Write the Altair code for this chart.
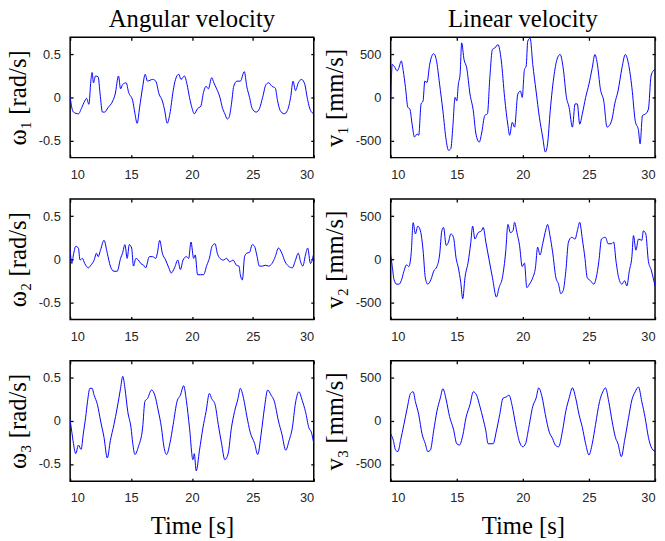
import altair as alt
import pandas as pd

# ---------------- data ----------------
t_w1 = [10.0, 10.14, 10.27, 10.68, 10.95, 11.2, 11.35, 11.54, 11.7, 11.8, 11.92, 12.08, 12.3, 12.46, 12.65,
        12.84, 13.1, 13.5, 13.7, 13.97, 14.14, 14.3, 14.6, 14.8, 15.14, 15.3, 15.5, 15.7, 15.95, 16.16, 16.35,
        16.76, 17.03, 17.3, 17.57, 17.76, 17.97, 18.19, 18.46, 18.65, 18.92, 19.1, 19.38, 19.6, 19.8, 20.0,
        20.19, 20.46, 20.73, 20.95, 21.16, 21.35, 21.62, 21.8, 22.03, 22.3, 22.5, 22.7, 22.9, 23.05, 23.24,
        23.43, 23.7, 23.97, 24.3, 24.5, 24.73, 24.95, 25.27, 25.54, 25.8, 26.08, 26.3, 26.57, 26.84, 27.03,
        27.24, 27.57, 27.84, 28.1, 28.3, 28.5, 28.73, 29.0, 29.27, 29.46, 29.73, 30.0]
w1 = [0.01, -0.12, -0.17, -0.19, -0.12, -0.04, -0.01, -0.08, 0.19, 0.29, 0.17, 0.25, 0.24, 0.04, -0.17,
      -0.17, -0.12, -0.04, 0.04, 0.25, 0.10, 0.15, 0.17, 0.06, -0.04, -0.17, -0.30, -0.12, 0.12, 0.27, 0.19,
      0.21, 0.19, 0.04, -0.04, -0.15, -0.30, -0.19, 0.08, 0.21, 0.27, 0.21, 0.25, 0.15, 0.0, -0.12,
      -0.19, -0.13, -0.10, 0.06, 0.13, 0.10, 0.23, 0.17, 0.10, 0.0, -0.12, -0.19, -0.25, -0.23, -0.08,
      0.13, 0.19, 0.19, 0.30, 0.13, 0.0, -0.13, -0.17, -0.13, 0.0, 0.15, 0.17, 0.13, 0.11, -0.04,
      -0.15, -0.19, -0.15, 0.0, 0.19, 0.08, 0.17, 0.21, 0.15, 0.0, -0.15, -0.19]

t_v1 = [10.0, 10.12, 10.25, 10.5, 10.62, 10.8, 10.95, 11.12, 11.3, 11.45, 11.62, 11.8, 12.0, 12.12, 12.3,
        12.45, 12.58, 12.75, 12.95, 13.25, 13.45, 13.7, 13.95, 14.2, 14.37, 14.55, 14.7, 14.87, 15.0, 15.12,
        15.25, 15.37, 15.55, 15.75, 16.0, 16.25, 16.45, 16.7, 16.87, 17.12, 17.32, 17.5, 17.7, 17.87, 18.12,
        18.37, 18.62, 18.87, 19.0, 19.2, 19.37, 19.62, 19.82, 19.95, 20.12, 20.25, 20.37, 20.55, 20.75, 21.0,
        21.25, 21.5, 21.7, 21.87, 22.07, 22.37, 22.62, 22.82, 23.05, 23.3, 23.5, 23.75, 23.95, 24.12, 24.3,
        24.5, 24.75, 25.0, 25.25, 25.45, 25.62, 25.87, 26.12, 26.37, 26.55, 26.75, 26.95, 27.2, 27.5, 27.75,
        28.0, 28.25, 28.5, 28.75, 28.87, 29.05, 29.3, 29.5, 29.7, 29.87, 30.0]
v1 = [-40, 385, 365, 310, 345, 425, 310, 115, -115, -135, -310, -460, -425, -440, -75,
      -40, 190, 175, 385, 510, 440, 155, -155, -500, -615, -595, -345, 0, -40, 155,
      270, 635, 440, 345, 40, -155, -425, -520, -425, -210, -190, 230, 560, 575, 615,
      425, 0, -325, -440, -290, -345, 40, 75, 0, 325, 365, 655, 690, 385, 75,
      -230, -460, -635, -540, -155, 270, 460, 500, 345, 0, -115, -345, -75, -75, -310,
      -190, 0, 155, 345, 500, 405, 95, -40, -345, -325, -250, -75, 75, 345, 500,
      385, 115, -270, -385, -540, -210, -190, -135, 250, 310, 325]

t_w2 = [10.0, 10.14, 10.27, 10.46, 10.68, 10.81, 11.0, 11.2, 11.5, 11.7, 11.97, 12.16, 12.3, 12.5, 12.78,
        13.05, 13.3, 13.6, 13.86, 14.14, 14.3, 14.5, 14.68, 14.86, 15.05, 15.2, 15.4, 15.6, 15.8, 16.03,
        16.2, 16.5, 16.76, 17.03, 17.16, 17.35, 17.57, 17.84, 18.1, 18.3, 18.57, 18.84, 19.05, 19.27, 19.54,
        19.73, 19.92, 20.14, 20.27, 20.46, 20.68, 20.95, 21.22, 21.43, 21.65, 21.9, 22.08, 22.3, 22.57, 22.84,
        23.1, 23.38, 23.65, 23.86, 23.97, 24.14, 24.32, 24.5, 24.73, 24.95, 25.14, 25.32, 25.54, 25.8, 26.03,
        26.3, 26.57, 26.84, 27.1, 27.38, 27.65, 27.92, 28.24, 28.5, 28.73, 28.92, 29.1, 29.32, 29.5, 29.73, 30.0]
w2 = [0.11, -0.05, 0.05, 0.15, 0.13, -0.01, 0.01, -0.05, -0.10, -0.07, -0.01, 0.07, 0.03, 0.11, 0.22,
      0.07, -0.08, -0.14, -0.14, 0.01, 0.07, 0.17, 0.01, 0.17, 0.13, -0.08, 0.01, -0.01, -0.05, -0.07,
      -0.10, 0.03, 0.03, 0.01, 0.07, 0.22, 0.07, -0.01, -0.10, -0.16, -0.10, -0.01, -0.12, -0.01, 0.03,
      0.01, 0.20, 0.01, 0.05, -0.18, -0.18, -0.18, -0.07, 0.01, 0.15, 0.18, 0.07, 0.01, -0.01, 0.01,
      -0.03, -0.01, -0.07, -0.08, -0.18, -0.24, 0.03, 0.07, 0.08, 0.17, 0.15, 0.05, -0.08, -0.08, -0.07,
      -0.08, -0.05, 0.03, 0.13, 0.07, -0.03, -0.08, -0.10, -0.01, 0.07, -0.03, -0.08, 0.05, 0.13, -0.05, 0.07]

t_v2 = [10.0, 10.12, 10.25, 10.45, 10.62, 10.8, 11.0, 11.2, 11.37, 11.55, 11.7, 11.87, 12.05, 12.25, 12.45,
        12.62, 12.8, 13.05, 13.25, 13.5, 13.7, 13.87, 14.0, 14.2, 14.37, 14.55, 14.75, 14.95, 15.12, 15.3,
        15.45, 15.62, 15.87, 16.05, 16.2, 16.37, 16.62, 16.87, 17.0, 17.2, 17.45, 17.7, 18.0, 18.2, 18.45,
        18.7, 18.87, 19.05, 19.25, 19.37, 19.55, 19.75, 19.95, 20.12, 20.3, 20.5, 20.75, 20.95, 21.12, 21.3,
        21.5, 21.75, 21.87, 22.05, 22.25, 22.5, 22.7, 22.87, 23.05, 23.25, 23.45, 23.7, 23.95, 24.12, 24.3,
        24.5, 24.7, 24.87, 25.12, 25.37, 25.55, 25.75, 25.95, 26.25, 26.45, 26.7, 26.87, 27.05, 27.25, 27.5,
        27.7, 27.87, 28.05, 28.25, 28.37, 28.55, 28.75, 29.0, 29.12, 29.3, 29.5, 29.7, 30.0]
v2 = [50, -85, -235, -290, -290, -250, -140, -65, -85, 70, 425, 295, 385, 330, 105,
      -215, -290, -235, -140, -85, 50, 330, 370, 160, 200, 295, 255, 10, -100, -270,
      -460, -215, -25, 180, 385, 235, 310, 330, 370, 200, -10, -215, -440, -330, -215,
      85, 405, 310, 330, 430, 310, 160, -85, -45, -330, -290, -215, -100, 140, 50,
      180, 350, 405, 275, 85, -215, -290, -400, -365, -140, 200, 255, 235, 330, 430,
      235, 10, -215, -250, -290, -215, -25, 235, 255, 180, 180, 200, -25, -215, -290,
      -250, -310, -140, 30, 275, 105, 235, 220, 330, 295, -25, -120, -310]

t_w3 = [10.0, 10.14, 10.27, 10.46, 10.68, 10.9, 11.08, 11.27, 11.43, 11.62, 11.8, 11.97, 12.24, 12.5, 12.78,
        13.05, 13.3, 13.6, 13.86, 14.14, 14.32, 14.5, 14.73, 15.0, 15.14, 15.32, 15.6, 15.95, 16.14, 16.35,
        16.68, 16.95, 17.22, 17.5, 17.7, 17.92, 18.19, 18.46, 18.78, 19.05, 19.32, 19.54, 19.8, 20.08, 20.19,
        20.35, 20.62, 20.9, 21.16, 21.43, 21.62, 21.9, 22.16, 22.43, 22.7, 22.97, 23.24, 23.5, 23.78, 23.97,
        24.24, 24.5, 24.78, 25.14, 25.4, 25.68, 25.95, 26.22, 26.5, 26.76, 27.1, 27.38, 27.7, 27.97, 28.24,
        28.5, 28.78, 29.05, 29.32, 29.6, 29.8, 30.0]
w3 = [0.01, -0.13, -0.26, -0.38, -0.28, -0.33, -0.15, 0.04, 0.23, 0.38, 0.38, 0.30, 0.19, 0.0, -0.19,
      -0.43, -0.23, -0.04, 0.15, 0.38, 0.52, 0.38, 0.11, -0.08, -0.26, -0.39, -0.30, -0.08, 0.23, 0.26,
      0.36, 0.30, 0.13, -0.08, -0.30, -0.39, -0.26, -0.04, 0.23, 0.30, 0.41, 0.24, -0.08, -0.45, -0.38,
      -0.58, -0.34, -0.08, 0.11, 0.32, 0.26, 0.19, -0.04, -0.26, -0.45, -0.38, -0.08, 0.11, 0.26, 0.38,
      0.26, 0.06, -0.13, -0.26, -0.39, -0.15, 0.15, 0.36, 0.30, 0.23, 0.0, -0.15, -0.34, -0.23, -0.08,
      0.21, 0.34, 0.24, 0.11, -0.08, -0.13, -0.26]

t_v3 = [10.0, 10.2, 10.37, 10.55, 10.75, 11.0, 11.25, 11.5, 11.7, 11.87, 12.12, 12.37, 12.62, 12.8, 13.0,
        13.25, 13.5, 13.75, 13.95, 14.2, 14.45, 14.75, 15.0, 15.2, 15.45, 15.7, 16.0, 16.25, 16.5, 16.75,
        17.0, 17.2, 17.37, 17.75, 18.0, 18.25, 18.5, 18.75, 18.95, 19.2, 19.45, 19.75, 20.0, 20.2, 20.45,
        20.75, 21.0, 21.2, 21.45, 21.7, 22.0, 22.25, 22.45, 22.7, 23.0, 23.25, 23.5, 23.75, 24.0, 24.25,
        24.5, 24.75, 25.0, 25.25, 25.5, 25.8, 26.05, 26.25, 26.5, 26.75, 27.0, 27.2, 27.45, 27.7, 28.0,
        28.25, 28.5, 28.75, 29.0, 29.25, 29.5, 29.7, 30.0]
v3 = [-150, -225, -340, -355, -225, -40, 150, 320, 340, 225, 75, -150, -265, -355, -340,
      -115, 115, 265, 375, 245, 55, -95, -265, -280, -170, 40, 190, 340, 300, 170,
      20, -115, -265, -265, -115, 75, 265, 280, 300, 170, -40, -245, -300, -265, -75,
      170, 265, 385, 280, 75, -130, -205, -280, -300, -115, 115, 265, 385, 265, 75,
      -75, -265, -395, -265, -40, 225, 340, 385, 225, 0, -190, -265, -415, -225, 40,
      245, 340, 395, 225, 40, -190, -300, -355]

x_ticks = [10, 15, 20, 25, 30]
w_ticks = [-0.5, 0, 0.5]
v_ticks = [-500, 0, 500]
col_titles = ["Angular velocity", "Linear velocity"]
w_titles = ["ω₁ [rad/s]", "ω₂ [rad/s]", "ω₃ [rad/s]"]
v_titles = ["v₁ [mm/s]", "v₂ [mm/s]", "v₃ [mm/s]"]
x_title = "Time [s]"

# ---------------- styling ----------------
AX = "#262626"
FRAME = "black"
SANS = "Liberation Sans"
SERIF = "Liberation Serif"
LINE = "#0000ff"


def panel(t, v, ylim, yticks, ytitle, width, height, col_title=None, xtitle=None):
    df = pd.DataFrame({"t": t, "v": v})
    xs = alt.Scale(domain=[10, 30], nice=False, zero=False)
    ys = alt.Scale(domain=ylim, nice=False, zero=False)
    common = dict(domain=False, grid=False, tickSize=3, offset=-3, tickColor=FRAME, tickWidth=1.3)
    xax = alt.Axis(orient="bottom", values=x_ticks, labelPadding=11, labelFont=SANS, labelFontSize=13,
                   labelColor=AX, labelExpr="'' + datum.value", title=xtitle, titleFont=SERIF,
                   titleFontSize=25, titleFontWeight="normal", titleColor="#000000", titlePadding=9,
                   **common)
    yax = alt.Axis(orient="left", values=yticks, labelPadding=10, labelFont=SANS, labelFontSize=13,
                   labelColor=AX, labelExpr="'' + datum.value", title=ytitle, titleFont=SERIF,
                   titleFontSize=25, titleFontWeight="normal", titleColor="#000000", titlePadding=8,
                   **common)
    xax2 = alt.Axis(orient="top", values=x_ticks, labels=False, title=None, **common)
    yax2 = alt.Axis(orient="right", values=yticks, labels=False, title=None, **common)
    line = alt.Chart(df).mark_line(color=LINE, strokeWidth=1, clip=True, interpolate="monotone").encode(
        x=alt.X("t:Q", scale=xs, axis=xax),
        y=alt.Y("v:Q", scale=ys, axis=yax),
    )
    mirror = alt.Chart(df).mark_line(opacity=0).encode(
        x=alt.X("t:Q", scale=xs, axis=xax2),
        y=alt.Y("v:Q", scale=ys, axis=yax2),
    )
    ch = alt.layer(line, mirror).resolve_axis(x="independent", y="independent").properties(
        width=width, height=height,
        view=alt.ViewBackground(stroke=FRAME, strokeWidth=1.5, strokeOpacity=1))
    if col_title:
        ch = ch.properties(title=alt.TitleParams(col_title, font=SERIF, fontSize=25, fontWeight="normal",
                                                 color="#000000", offset=5, frame="group", anchor="middle"))
    return ch


WL, WR, H = 247, 268, 122
ws = [t_w1, t_w2, t_w3]
wv = [w1, w2, w3]
vs = [t_v1, t_v2, t_v3]
vv = [v1, v2, v3]

charts = []
for i in range(3):
    ct_l = col_titles[0] if i == 0 else None
    ct_r = col_titles[1] if i == 0 else None
    xt = x_title if i == 2 else None
    charts.append(panel(ws[i], wv[i], [-0.7, 0.7], w_ticks, w_titles[i], WL, H, ct_l, xt))
    charts.append(panel(vs[i], vv[i], [-700, 700], v_ticks, v_titles[i], WR, H, ct_r, xt))

chart = alt.concat(*charts, columns=2, spacing=alt.RowColnumber(row=42, column=78), bounds="flush").properties(
    padding={"left": -4, "top": -6, "right": 0, "bottom": 0}
).configure_view(stroke=FRAME, strokeWidth=1.5)

chart.save("out.html", embed_options={"renderer": "svg", "actions": False})
